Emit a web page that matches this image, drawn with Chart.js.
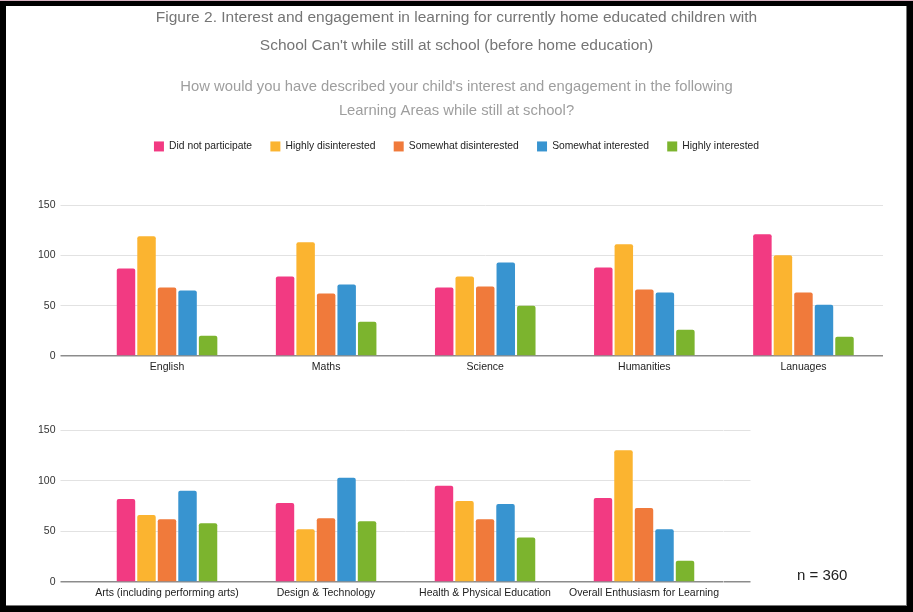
<!DOCTYPE html>
<html>
<head>
<meta charset="utf-8">
<script src="https://cdn.jsdelivr.net/npm/chart.js@4.4.1/dist/chart.umd.min.js"></script>
<style>
  body { margin: 0; background: #fff; }
  #frame { position: relative; width: 913px; height: 612px; background: #000; overflow: hidden; }
  #frame .pinkline { position: absolute; left: 0; top: 0; width: 913px; height: 1px; background: #d8b2c2; }
  #panel { position: absolute; left: 6px; top: 6px; width: 901px; height: 600px; background: #fff;
           box-sizing: border-box; border-right: 1px solid #777; border-bottom: 1px solid #777; }
  canvas { position: absolute; left: 6px; }
  #topChart { top: 4px; }
  #bottomChart { top: 384px; }
  #ncount { position: absolute; left: 797px; top: 566px; font: 15px Arial, "Liberation Sans", sans-serif; color: #222; }
</style>
</head>
<body>
<div id="frame">
  <div class="pinkline"></div>
  <div id="panel"></div>
  <canvas id="topChart" width="901" height="380"></canvas>
  <canvas id="bottomChart" width="901" height="222"></canvas>
  <div id="ncount">n = 360</div>
</div>
<script>
const seriesNames = ['Did not participate', 'Highly disinterested', 'Somewhat disinterested', 'Somewhat interested', 'Highly interested'];
const seriesColors = ['#f23a82', '#fbb430', '#f07a3b', '#3894d0', '#7cb42e'];

// top row
const topAreas = ['English', 'Maths', 'Science', 'Humanities', 'Lanuages'];
const topDidNot = [87, 79, 68, 88, 121];
const topHighlyDis = [119, 113, 79, 111, 100];
const topSomeDis = [68, 62, 69, 66, 63];
const topSomeInt = [65, 71, 93, 63, 51];
const topHighlyInt = [20, 34, 50, 26, 19];

// bottom row
const bottomAreas = ['Arts (including performing arts)', 'Design & Technology', 'Health & Physical Education', 'Overall Enthusiasm for Learning'];
const bottomDidNot = [82, 78, 95, 83];
const bottomHighlyDis = [66, 52, 80, 130];
const bottomSomeDis = [62, 63, 62, 73];
const bottomSomeInt = [90, 103, 77, 52];
const bottomHighlyInt = [58, 60, 44, 21];

const yTicks = [0, 50, 100, 150];

const FONT = 'Arial, "Liberation Sans", sans-serif';

function makeDatasets(rows) {
    return rows.map((data, i) => ({
        label: seriesNames[i],
        data: data,
        backgroundColor: seriesColors[i],
        borderWidth: 0,
        borderRadius: 2,
        categoryPercentage: 0.645,
        barPercentage: 0.9
    }));
}

const gridColor = ctx => ctx.tick && ctx.tick.value === 0 ? '#8c8c8c' : '#e2e2e2';
const gridWidth = ctx => ctx.tick && ctx.tick.value === 0 ? 1.5 : 1;

function yScale() {
    return {
        min: yTicks[0],
        max: yTicks[yTicks.length - 1],
        afterFit: scale => { scale.width = 57.5; },
        border: { display: false },
        grid: { color: gridColor, tickColor: gridColor, lineWidth: gridWidth, tickLength: 27 },
        ticks: { stepSize: 50, padding: 5, color: '#333', font: { family: FONT, size: 10.5 } }
    };
}

function xScale(height) {
    return {
        afterFit: scale => { scale.height = height; },
        border: { display: false },
        grid: { display: false, drawTicks: false },
        ticks: { padding: 5, color: '#222', autoSkip: false, maxRotation: 0, font: { family: FONT, size: 10.5 } }
    };
}

// push the plot down below the legend
const legendGap = {
    id: 'legendGap',
    beforeInit(chart) {
        const fit = chart.legend.fit;
        chart.legend.fit = function () {
            fit.bind(chart.legend)();
            this.height = 82;
        };
    }
};

new Chart(document.getElementById('topChart'), {
    type: 'bar',
    data: {
        labels: topAreas,
        datasets: makeDatasets([topDidNot, topHighlyDis, topSomeDis, topSomeInt, topHighlyInt])
    },
    options: {
        responsive: false,
        animation: false,
        layout: { padding: { left: 24, right: 24, top: 0, bottom: 0 } },
        scales: { x: xScale(28), y: yScale() },
        plugins: {
            title: {
                display: true,
                text: ['Figure 2. Interest and engagement in learning for currently home educated children with',
                       "School Can't while still at school (before home education)"],
                color: '#757575',
                font: { family: FONT, size: 15.5, weight: 'normal', lineHeight: 28 / 15.5 },
                padding: { top: 0, bottom: 15 }
            },
            subtitle: {
                display: true,
                text: ["How would you have described your child's interest and engagement in the following",
                       'Learning Areas while still at school?'],
                color: '#9e9e9e',
                font: { family: FONT, size: 14.8, lineHeight: 24 / 14.8 },
                padding: 0
            },
            legend: {
                labels: {
                    boxWidth: 10, boxHeight: 10, padding: 18.3, color: '#222',
                    font: { family: FONT, size: 10.3 }
                }
            },
            tooltip: { enabled: false }
        }
    },
    plugins: [legendGap]
});

const y2 = {
    position: 'right',
    min: 0, max: 150,
    afterFit: scale => { scale.width = 27; },
    border: { display: false },
    grid: { drawOnChartArea: false, color: gridColor, tickColor: gridColor, lineWidth: gridWidth, tickLength: 27 },
    ticks: { display: false, stepSize: 50 }
};

new Chart(document.getElementById('bottomChart'), {
    type: 'bar',
    data: {
        labels: bottomAreas,
        datasets: makeDatasets([bottomDidNot, bottomHighlyDis, bottomSomeDis, bottomSomeInt, bottomHighlyInt])
    },
    options: {
        responsive: false,
        animation: false,
        layout: { padding: { left: 24, right: 156.5, top: 46, bottom: 0 } },
        scales: { x: xScale(24), y: yScale(), y2: y2 },
        plugins: {
            legend: { display: false },
            tooltip: { enabled: false }
        }
    }
});
</script>
</body>
</html>
